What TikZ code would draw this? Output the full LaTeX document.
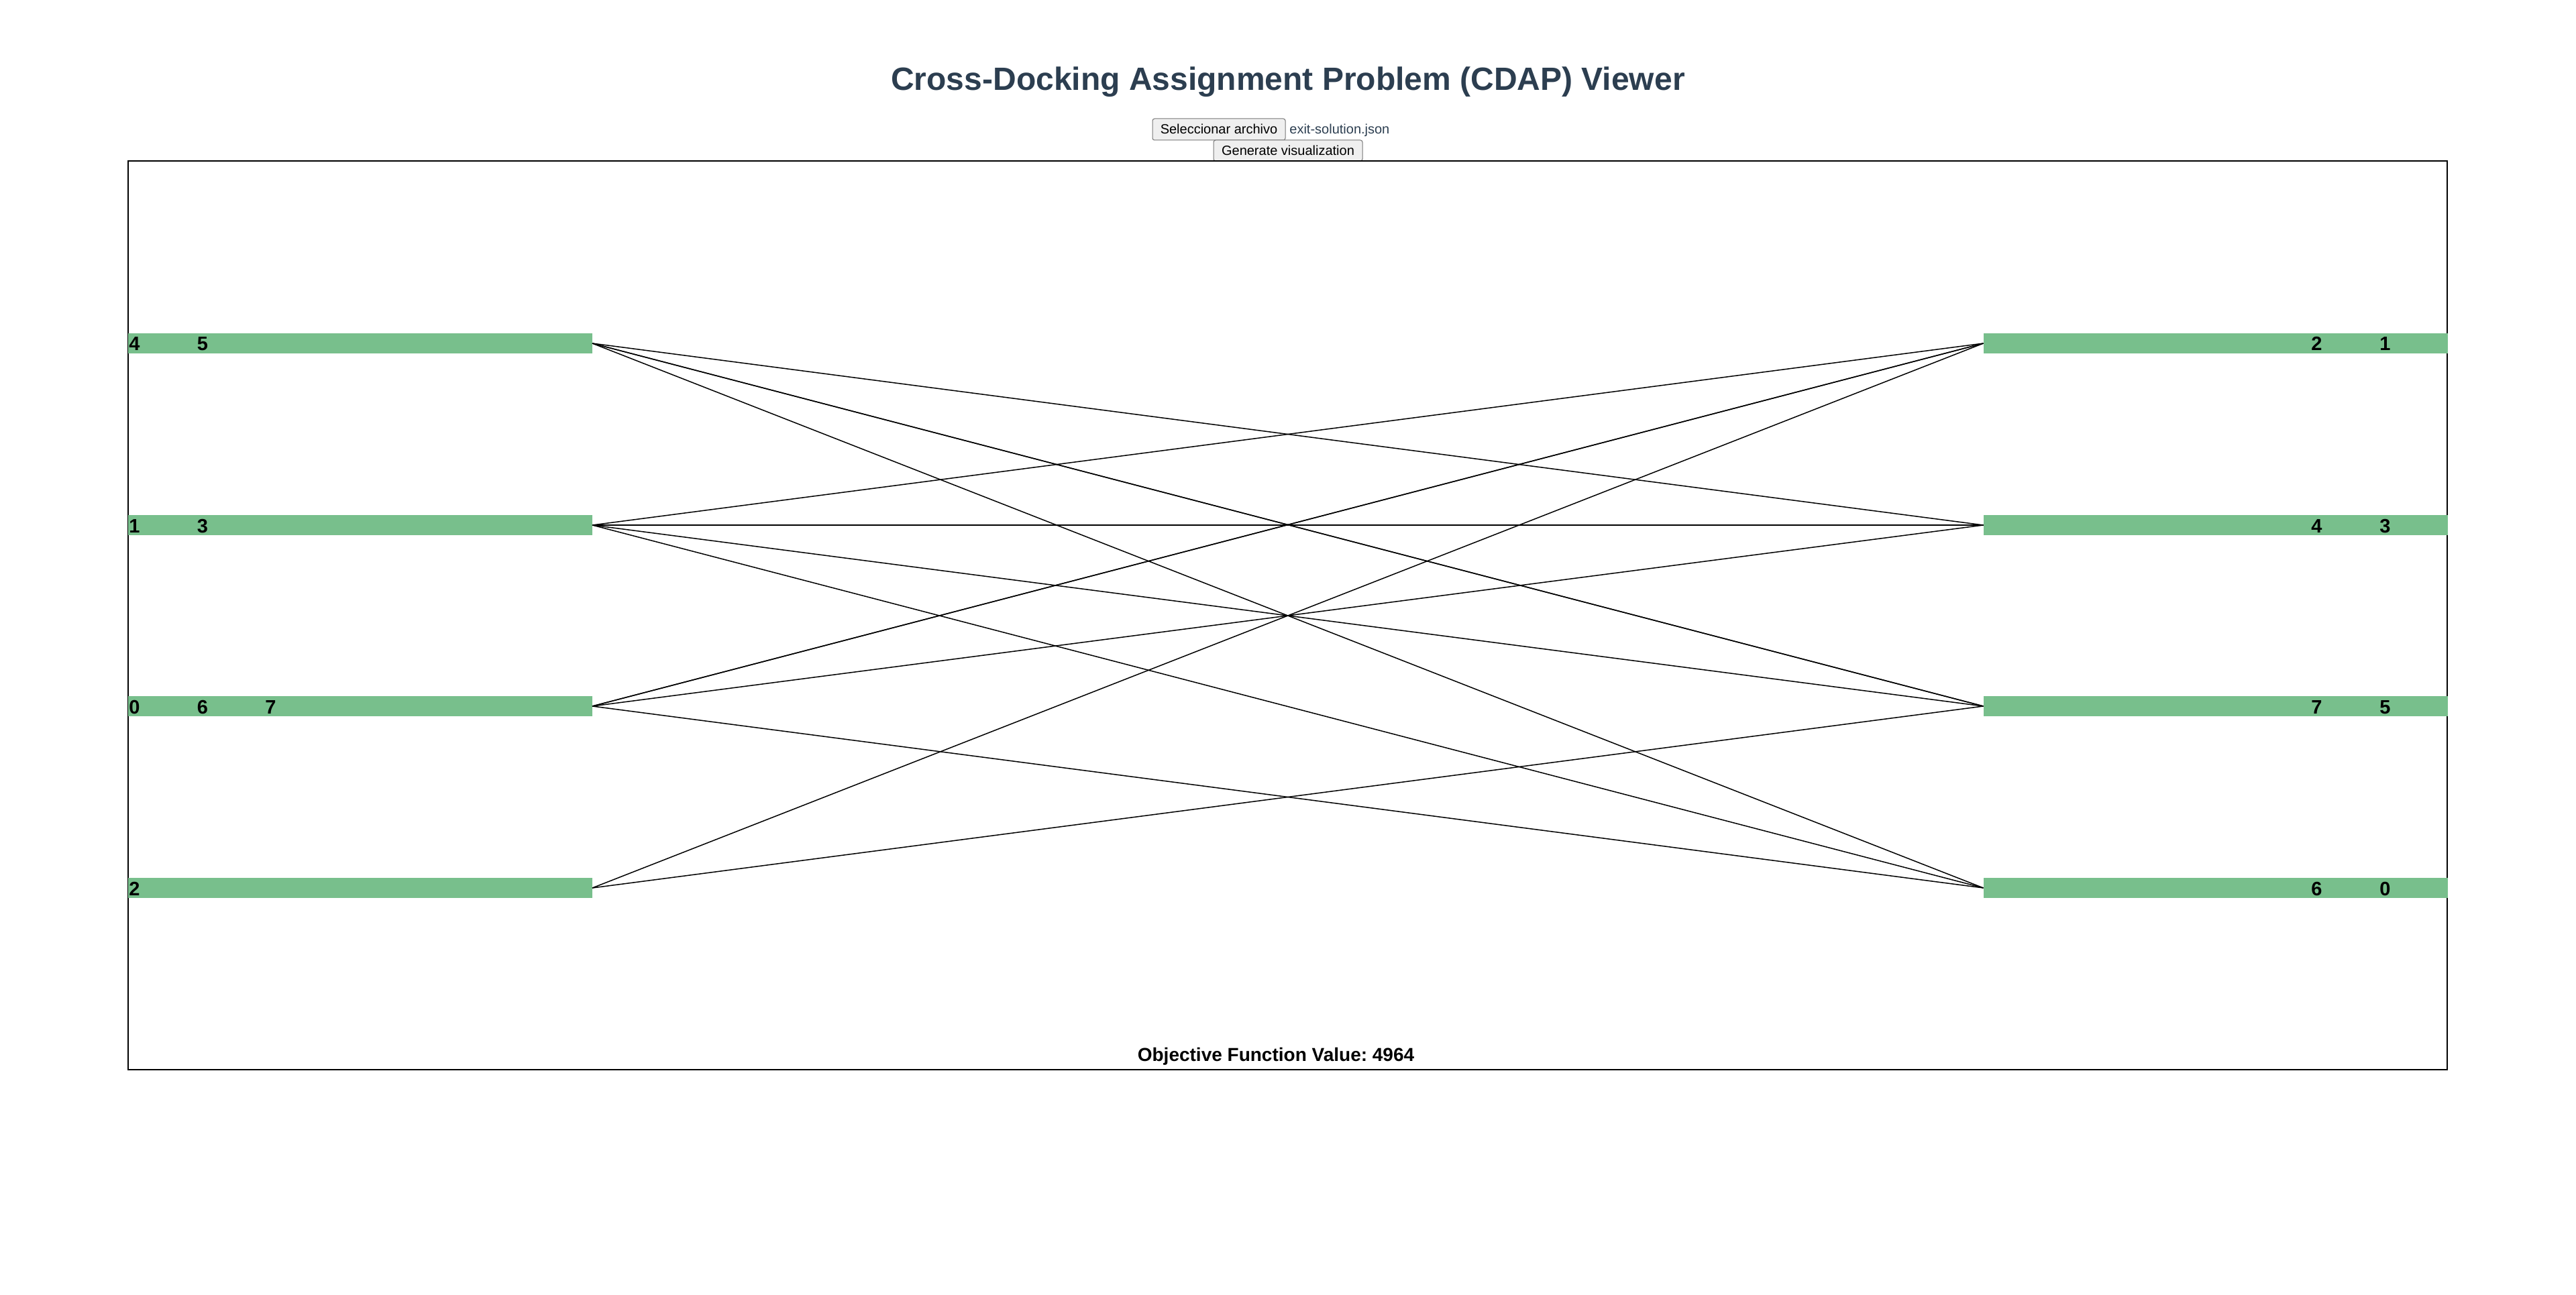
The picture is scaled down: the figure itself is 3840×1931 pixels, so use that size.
\documentclass[tikz,border=0pt]{standalone}
\usepackage{fontspec}
\setmainfont{Liberation Sans}
\frenchspacing
\definecolor{titlecol}{HTML}{2C3E50}
\definecolor{barcol}{RGB}{120,191,140}
\definecolor{btnface}{HTML}{EFEFEF}
\definecolor{btnedge}{HTML}{767676}
\tikzset{
  bar/.style={fill=barcol, draw=none, minimum width=346pt, minimum height=15pt, inner sep=0pt, outer sep=0pt},
  num/.style={font=\bfseries\fontsize{14.5pt}{17pt}\selectfont, anchor=base west, inner sep=0pt},
  btn/.style={fill=btnface, draw=btnedge, line width=0.5pt, rounded corners=1.5pt, inner sep=0pt},
  btntext/.style={inner sep=0pt, font=\fontsize{10pt}{12pt}\selectfont},
  flow/.style={line width=0.75pt, black}
}
\begin{document}
\begin{tikzpicture}[x=0.5pt,y=-0.5pt]
\useasboundingbox (0,0) rectangle (3840,1931);
% title
\node[anchor=base, inner sep=0pt, text=titlecol, font=\bfseries\fontsize{24pt}{28pt}\selectfont] (title) at (1920,135) {Cross-Docking Assignment Problem (CDAP) Viewer};
% buttons
\node[btn, minimum width=99pt, minimum height=16pt] (sel) at (1817,193) {};
\node[btntext, anchor=base] (seltext) at (1817,200) {Seleccionar archivo};
\node[btntext, anchor=base west, text=titlecol] (file) at (1922,200) {exit-solution.json};
\node[btn, minimum width=111pt, minimum height=15.5pt] (gen) at (1920,224.5) {};
\node[btntext, anchor=base] (gentext) at (1920,232) {Generate visualization};
% frame
\draw[line width=0.8pt, black] (191,240) rectangle (3648,1595);
% bars
\node[bar] (L0) at (537,512) {};
\node[bar] (L1) at (537,783) {};
\node[bar] (L2) at (537,1053) {};
\node[bar] (L3) at (537,1324) {};
\node[bar] (R0) at (3302.5,512) {};
\node[bar] (R1) at (3302.5,783) {};
\node[bar] (R2) at (3302.5,1053) {};
\node[bar] (R3) at (3302.5,1324) {};
% left labels
\node[num] (l0a) at (192,523) {4};
\node[num] (l0b) at (293.5,523) {5};
\node[num] (l1a) at (192,794) {1};
\node[num] (l1b) at (293.5,794) {3};
\node[num] (l2a) at (192,1064) {0};
\node[num] (l2b) at (293.5,1064) {6};
\node[num] (l2c) at (395,1064) {7};
\node[num] (l3a) at (192,1335) {2};
% right labels
\node[num] (r0a) at (3445,523) {2};
\node[num] (r0b) at (3547,523) {1};
\node[num] (r1a) at (3445,794) {4};
\node[num] (r1b) at (3547,794) {3};
\node[num] (r2a) at (3445,1064) {7};
\node[num] (r2b) at (3547,1064) {5};
\node[num] (r3a) at (3445,1335) {6};
\node[num] (r3b) at (3547,1335) {0};
% flows
\draw[flow] (L0.east) -- (R1.west);
\draw[flow] (L0.east) -- (R2.west);
\draw[flow] (L0.east) -- (R2.west);
\draw[flow] (L0.east) -- (R3.west);
\draw[flow] (L1.east) -- (R0.west);
\draw[flow] (L1.east) -- (R1.west);
\draw[flow] (L1.east) -- (R2.west);
\draw[flow] (L1.east) -- (R3.west);
\draw[flow] (L2.east) -- (R0.west);
\draw[flow] (L2.east) -- (R0.west);
\draw[flow] (L2.east) -- (R1.west);
\draw[flow] (L2.east) -- (R3.west);
\draw[flow] (L3.east) -- (R0.west);
\draw[flow] (L3.east) -- (R2.west);
% objective
\node[anchor=base, inner sep=0pt, font=\bfseries\fontsize{14pt}{17pt}\selectfont] (obj) at (1902,1582) {Objective Function Value: 4964};
\end{tikzpicture}
\end{document}
